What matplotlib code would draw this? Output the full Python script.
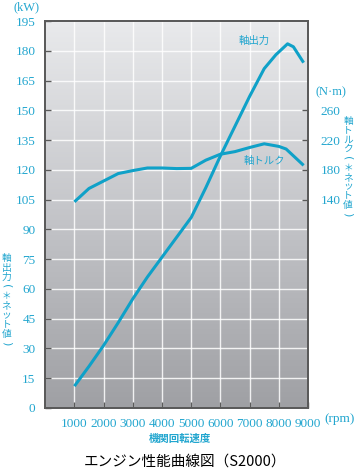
import numpy as np
import matplotlib
matplotlib.use("Agg")
import matplotlib.pyplot as plt
from matplotlib.colors import LinearSegmentedColormap

# ---- data ----
power_rpm = [1000, 1500, 2000, 2500, 3000, 3500, 4000, 4500, 5000, 5500, 6000, 6500, 7000, 7500, 7900, 8300, 8500, 8850]
power_kw = [11, 21, 31.5, 43, 55, 66, 76, 86, 96, 111, 127, 142, 157, 171, 178, 183.5, 182, 174]
torque_rpm = [1000, 1500, 2000, 2500, 3000, 3500, 4000, 4500, 5000, 5500, 6000, 6500, 7000, 7500, 8000, 8250, 8850]
torque_nm = [137, 155, 165, 175, 179, 182.5, 182.5, 181.7, 182, 193, 201, 204.5, 210, 215, 211.5, 208, 186]
x_ticks = [1000, 2000, 3000, 4000, 5000, 6000, 7000, 8000, 9000]
kw_ticks = list(range(0, 196, 15))
nm_ticks = [140, 180, 220, 260]

W, H = 357, 471
fig = plt.figure(figsize=(W / 100, H / 100), dpi=100)
fig.patch.set_facecolor("white")

L, R, B, T = 45.2, 308, 408, 21
ax = fig.add_axes([L / W, 1 - B / H, (R - L) / W, (B - T) / H])

CYAN = "#22a6cf"
LINE = "#0fa1c8"
SPINE = "#5a5a5a"
SERIF = "Liberation Serif"
CJK = ["Noto Sans CJK JP", "DejaVu Sans"]

ax.set_xlim(0, 9000)
ax.set_ylim(0, 195)

cmap = LinearSegmentedColormap.from_list("bg", ["#9fa0a4", "#c4c5c9", "#e9eaec"])
grad = np.linspace(0, 1, 256).reshape(-1, 1)
ax.imshow(grad, extent=[0, 9000, 0, 195], origin="lower", aspect="auto", cmap=cmap, zorder=0)

ax.set_xticks(x_ticks)
ax.set_yticks(kw_ticks)
ax.grid(True, color="white", linewidth=1.0, alpha=0.85)
ax.tick_params(direction="in", length=4, width=1, color=SPINE, labelcolor=CYAN, labelsize=9.5, pad=7)
for lab in ax.get_xticklabels() + ax.get_yticklabels():
    lab.set_fontfamily(SERIF)
for s in ax.spines.values():
    s.set_color(SPINE)
    s.set_linewidth(1.3)

ax.plot(power_rpm, power_kw, color=LINE, linewidth=2.2, zorder=3, solid_capstyle="butt")

ax2 = ax.twinx()
ax2.set_ylim(-140, 380)
ax2.set_yticks(nm_ticks)
ax2.tick_params(direction="in", length=4, width=1, color=SPINE, labelcolor=CYAN, labelsize=9.5, pad=9)
for lab in ax2.get_yticklabels():
    lab.set_fontfamily(SERIF)
for s in ax2.spines.values():
    s.set_color(SPINE)
    s.set_linewidth(1.3)
ax2.plot(torque_rpm, torque_nm, color=LINE, linewidth=2.2, zorder=3, solid_capstyle="butt")

ax.text(7140, 185, "軸出力", color=CYAN, fontsize=7.5, family=CJK, ha="center", va="center", zorder=4)
ax.text(7520, 124.4, "軸トルク", color=CYAN, fontsize=7.5, family=CJK, ha="center", va="center", zorder=4)

def ftext(x, y, s, **kw):
    fig.text(x / W, 1 - y / H, s, **kw)

ftext(27, 7, "(kW)", color=CYAN, fontsize=9, family=SERIF, ha="center", va="center")
ftext(331, 92, "(N·m)", color=CYAN, fontsize=9, family=SERIF, ha="center", va="center")
ftext(324, 419, "(rpm)", color=CYAN, fontsize=9.5, family=SERIF, ha="left", va="center")
ftext(180, 439, "機関回転速度", color=CYAN, fontsize=7.5, family=CJK, ha="center", va="center", fontweight="bold")
ftext(185, 462, "エンジン性能曲線図（S2000）", color="black", fontsize=10.5, family=CJK, ha="center", va="center")

def vlabel(x, y0, step, s):
    for i, ch in enumerate(s):
        if ch in "()":
            ftext(x, y0 + i * step, ch, color=CYAN, fontsize=8, family="DejaVu Sans",
                  ha="center", va="center", rotation=-90, rotation_mode="anchor")
        else:
            ftext(x, y0 + i * step, ch, color=CYAN, fontsize=7, family=CJK,
                  ha="center", va="center")

vlabel(6.5, 258, 9.5, "軸出力(＊ネット値)")
vlabel(348, 121, 9.3, "軸トルク(＊ネット値)")

fig.savefig("out.png", dpi=100, facecolor="white")
